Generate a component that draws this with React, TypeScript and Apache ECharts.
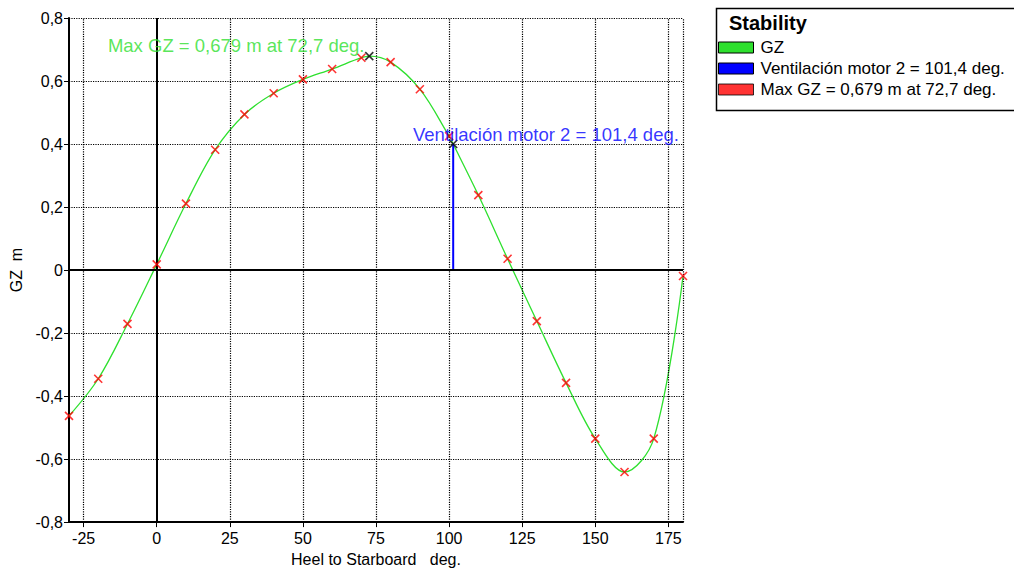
import React, { useEffect, useRef } from "react";
import * as echarts from "echarts";

const heelDeg = [-30, -20, -10, 0, 10, 20, 30, 40, 50, 60, 70, 80, 90, 100, 110, 120, 130, 140, 150, 160, 170, 180];
const gzValues = [-0.463, -0.345, -0.171, 0.018, 0.211, 0.382, 0.494, 0.561, 0.605, 0.638, 0.674, 0.660, 0.574, 0.425, 0.238, 0.036, -0.162, -0.358, -0.535, -0.641, -0.535, -0.019];
const maxGzPoint = [72.7, 0.679];
const ventPoint = [101.4, 0.4];
const xTickLabels = [-25, 0, 25, 50, 75, 100, 125, 150, 175];
const xGridLines = [-25, 25, 50, 75, 100, 125, 150, 175, 180];

const GZ_NAME = "GZ";
const VENT_NAME = "Ventilación motor 2 = 101,4 deg.";
const MAX_NAME = "Max GZ = 0,679 m at 72,7 deg.";

const GREEN = "#2ee02e";
const FONT = "Liberation Sans, Arial, sans-serif";
const CROSS = "path://M0,0L10,10M10,0L0,10";

export default function App() {
  const ref = useRef<HTMLDivElement>(null);
  useEffect(() => {
    if (!ref.current) return;
    const chart = echarts.init(ref.current, null, { renderer: "svg" });
    const points = heelDeg.map((d, i) => [d, gzValues[i]]);
    const curve = [...points, maxGzPoint, ventPoint].sort((a, b) => a[0] - b[0]);
    const dotted = { type: "dotted" as const, color: "#000", width: 1.2 };
    chart.setOption({
      animation: false,
      textStyle: { fontFamily: FONT },
      grid: { left: 69, top: 18, width: 614, height: 508, containLabel: false },
      legend: {
        orient: "vertical",
        left: 718,
        top: 39,
        padding: 0,
        itemWidth: 35,
        itemHeight: 11,
        itemGap: 4,
        textStyle: { fontFamily: FONT, fontSize: 17, color: "#000", padding: [0, 0, 0, 2] },
        data: [
          { name: GZ_NAME, icon: "rect", itemStyle: { color: GREEN, borderColor: "#000", borderWidth: 1 } },
          { name: VENT_NAME, icon: "rect", itemStyle: { color: "#0000ff", borderColor: "#000", borderWidth: 1 } },
          { name: MAX_NAME, icon: "rect", itemStyle: { color: "#ff0000", borderColor: "#000", borderWidth: 1 } },
        ],
      },
      graphic: [
        { type: "rect", left: 714, top: 6, shape: { width: 330, height: 102 }, style: { fill: "none", stroke: "#000", lineWidth: 1.5 }, silent: true },
        { type: "text", left: 729, top: 13, style: { text: "Stability", font: `bold 20px ${FONT}`, fill: "#000" } },
      ],
      xAxis: {
        type: "value",
        min: -30,
        max: 180,
        name: "Heel to Starboard   deg.",
        nameLocation: "middle",
        nameGap: 27,
        nameTextStyle: { fontSize: 16, color: "#000", fontFamily: FONT },
        axisLine: { onZero: false, lineStyle: { color: "#000", width: 2 } },
        axisTick: { show: true, customValues: xTickLabels, length: 5, lineStyle: { color: "#000" } },
        splitLine: { show: false },
        axisLabel: { customValues: xTickLabels, fontSize: 16, color: "#000", margin: 8, fontFamily: FONT },
      },
      yAxis: {
        type: "value",
        min: -0.8,
        max: 0.8,
        interval: 0.2,
        name: "GZ  m",
        nameLocation: "middle",
        nameGap: 42,
        nameTextStyle: { fontSize: 16, color: "#000", fontFamily: FONT },
        axisLine: { onZero: false, lineStyle: { color: "#000", width: 2 } },
        axisTick: { show: true, length: 5, lineStyle: { color: "#000" } },
        splitLine: { show: true, lineStyle: dotted },
        axisLabel: {
          fontSize: 16,
          color: "#000",
          margin: 6,
          fontFamily: FONT,
          formatter: (v: number) => (Math.abs(v) < 1e-9 ? "0" : v.toFixed(1).replace(".", ",")),
        },
      },
      series: [
        {
          name: GZ_NAME,
          type: "line",
          data: curve,
          smooth: 0.35,
          showSymbol: false,
          lineStyle: { color: GREEN, width: 1.3 },
          itemStyle: { color: GREEN },
          z: 3,
          markLine: {
            silent: true,
            symbol: "none",
            label: { show: false },
            data: [
              ...xGridLines.map((v) => ({ xAxis: v, lineStyle: dotted })),
              { xAxis: 0, lineStyle: { type: "solid", color: "#000", width: 2 } },
              { yAxis: 0, lineStyle: { type: "solid", color: "#000", width: 2 } },
            ],
          },
        },
        {
          name: VENT_NAME,
          type: "line",
          data: [[ventPoint[0], 0], ventPoint],
          showSymbol: false,
          lineStyle: { color: "#0000ff", width: 2 },
          itemStyle: { color: "#0000ff" },
          z: 4,
        },
        {
          name: MAX_NAME,
          type: "scatter",
          data: points,
          symbol: CROSS,
          symbolSize: 8,
          itemStyle: { color: "#ff0000", borderColor: "#ff0000", borderWidth: 1.6 },
          z: 5,
        },
        {
          name: "markers",
          type: "scatter",
          symbol: CROSS,
          symbolSize: 8,
          itemStyle: { color: "#000", borderColor: "#000", borderWidth: 1.6 },
          z: 6,
          data: [
            {
              value: maxGzPoint,
              label: {
                show: true,
                position: "left",
                distance: 0,
                offset: [0, -11],
                formatter: MAX_NAME,
                color: GREEN,
                fontSize: 18.5,
                fontFamily: FONT,
              },
            },
            {
              value: ventPoint,
              label: {
                show: true,
                position: "right",
                distance: 0,
                offset: [-45, -10],
                formatter: VENT_NAME,
                color: "#0000ff",
                fontSize: 18.5,
                fontFamily: FONT,
              },
            },
          ],
        },
      ],
    });
    return () => chart.dispose();
  }, []);
  return <div ref={ref} style={{ position: "fixed", left: 0, top: 0, width: 1014, height: 572, background: "#fff" }} />;
}
